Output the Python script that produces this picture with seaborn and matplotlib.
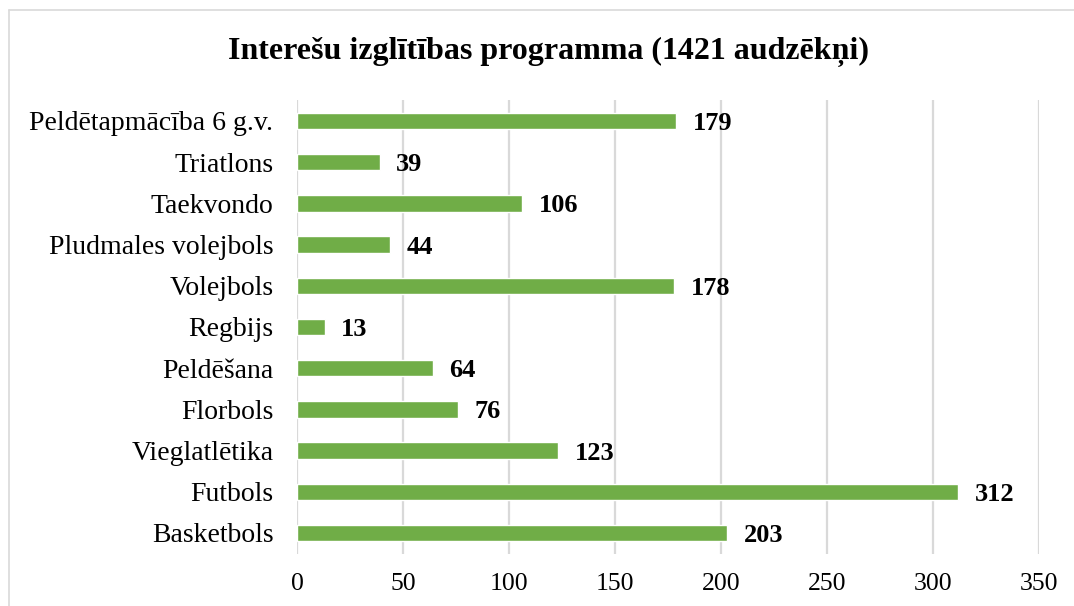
import matplotlib
matplotlib.use('Agg')
import matplotlib.pyplot as plt
import seaborn as sns
import pandas as pd
from matplotlib.lines import Line2D

# ------------------------------------------------------------------
# Dati
# ------------------------------------------------------------------
programmas = [
    'Peldētapmācība 6 g.v.', 'Triatlons', 'Taekvondo', 'Pludmales volejbols',
    'Volejbols', 'Regbijs', 'Peldēšana', 'Florbols', 'Vieglatlētika',
    'Futbols', 'Basketbols'
]
audzekni = [179, 39, 106, 44, 178, 13, 64, 76, 123, 312, 203]
x_ticks = [0, 50, 100, 150, 200, 250, 300, 350]
title = 'Interešu izglītības programma (1421 audzēkņi)'

df = pd.DataFrame({'programma': programmas, 'skaits': audzekni})

# ------------------------------------------------------------------
# Stils
# ------------------------------------------------------------------
sns.set_style('white')
plt.rcParams['font.family'] = ['Liberation Serif', 'DejaVu Serif']

GREEN = '#70AD47'
GRID = '#D9D9D9'

W, H = 1074, 606
fig = plt.figure(figsize=(W / 100, H / 100), dpi=100)
ax = fig.add_axes([297 / W, 1 - 553.6 / H, (1039 - 297) / W, (553.6 - 100.4) / H])

sns.barplot(data=df, x='skaits', y='programma', order=programmas,
            orient='h', color=GREEN, saturation=1, width=0.4, ax=ax, zorder=3)

ax.set_xlim(0, 350)
ax.set_xticks(x_ticks)
ax.set_xticklabels([str(t) for t in x_ticks])
ax.set_xlabel('')
ax.set_ylabel('')
ax.grid(axis='x', color=GRID, linewidth=1.6, zorder=0)
ax.set_axisbelow(True)
for s in ax.spines.values():
    s.set_visible(False)
ax.tick_params(axis='both', length=0, colors='black')
ax.tick_params(axis='y', pad=17, labelsize=20)
ax.tick_params(axis='x', pad=14, labelsize=18.5)

# vērtību etiķetes
for cont in ax.containers:
    labels = ax.bar_label(cont, labels=[str(v) for v in audzekni], padding=12,
                          fontsize=19, fontweight='bold', color='black')
    for t in labels:
        t.set_va('center_baseline')

fig.text(548 / W, 1 - 52 / H, title, ha='center', va='center',
         fontsize=23, fontweight='bold', color='black')

# rāmis ap diagrammu
fig.add_artist(Line2D([8.5 / W, 1], [1 - 10 / H, 1 - 10 / H],
                      transform=fig.transFigure, color=GRID, linewidth=1.2))
fig.add_artist(Line2D([8.5 / W, 8.5 / W], [0, 1 - 10 / H],
                      transform=fig.transFigure, color=GRID, linewidth=1.2))

fig.savefig('out.png', dpi=100)
